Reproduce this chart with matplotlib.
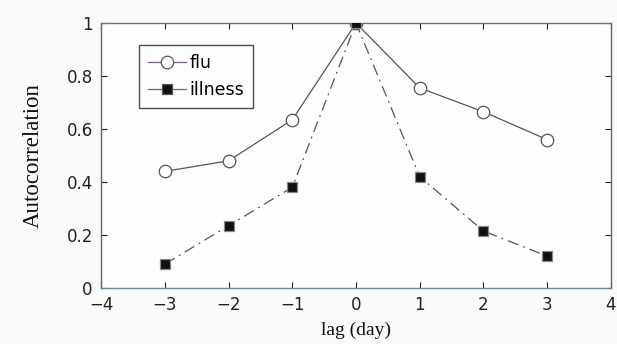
import matplotlib
matplotlib.use("Agg")
import matplotlib.pyplot as plt

lags = [-3, -2, -1, 0, 1, 2, 3]
flu = [0.44, 0.48, 0.635, 1.0, 0.755, 0.665, 0.56]
illness = [0.09, 0.235, 0.38, 1.0, 0.42, 0.215, 0.12]

xticks = [-4, -3, -2, -1, 0, 1, 2, 3, 4]
yticks = [0, 0.2, 0.4, 0.6, 0.8, 1]

fig = plt.figure(figsize=(6.17, 3.44), dpi=100)
fig.patch.set_facecolor("#fbfafb")
ax = fig.add_axes([0.164, 0.163, 0.826, 0.77])
ax.set_facecolor("#fdfdfd")

line_col = "#555555"
ax.plot(lags, flu, color=line_col, linewidth=0.9, marker="o", markersize=9,
        markerfacecolor="white", markeredgecolor="#555555", markeredgewidth=0.9,
        label="flu", zorder=3)
ax.plot(lags, illness, color=line_col, linewidth=0.9, linestyle=(0, (9, 4, 1.5, 4)),
        marker="s", markersize=7, markerfacecolor="#111111",
        markeredgecolor="#888888", markeredgewidth=0.9, label="illness", zorder=4)

ax.set_xlim(-4, 4)
ax.set_ylim(0, 1)
ax.set_xticks(xticks)
ax.set_yticks(yticks)
ax.set_yticklabels(["0", "0.2", "0.4", "0.6", "0.8", "1"])
ax.tick_params(direction="in", length=4, width=0.8, labelsize=12, colors="#222222",
               pad=6, top=True, right=True)

for name, sp in ax.spines.items():
    sp.set_linewidth(1.0)
    sp.set_color("#666666")
ax.spines["top"].set_color("#7a6a9a")
ax.spines["bottom"].set_color("#6a8a9a")

ax.set_xlabel("lag (day)", family="Liberation Serif", fontsize=14, labelpad=5,
              color="#111111")
ax.set_ylabel("Autocorrelation", family="Liberation Serif", fontsize=16.5,
              labelpad=16, color="#111111")

leg = ax.legend(loc="upper left", bbox_to_anchor=(0.0745, 0.917), borderaxespad=0,
                fontsize=12.5, frameon=True, fancybox=False, edgecolor="#222222",
                handlelength=2.2, handletextpad=0.2, borderpad=0.5,
                labelspacing=0.55)
leg.get_frame().set_linewidth(1.0)
leg.get_frame().set_facecolor("#fdfdfd")
# legend handles use a plain purplish line
for h in leg.legend_handles:
    h.set_color("#7a5a9a")
    h.set_linestyle("-")
    h.set_markeredgecolor("#555555")

fig.savefig("out.png", dpi=100, facecolor=fig.get_facecolor())
